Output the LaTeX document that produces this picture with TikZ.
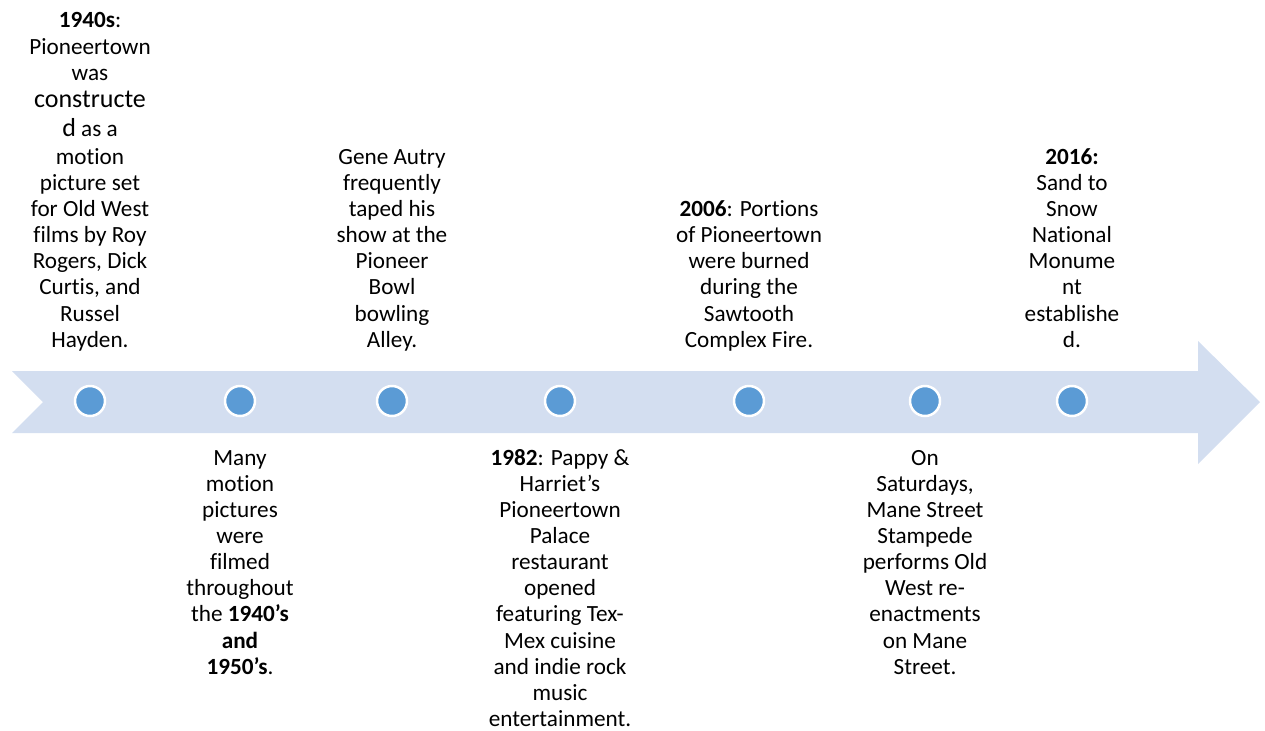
\documentclass[tikz,border=0pt]{standalone}
\usepackage{fontspec}
\setmainfont{Carlito}[Ligatures=NoCommon]
\usetikzlibrary{positioning}
\definecolor{bandblue}{HTML}{D3DEF0}
\definecolor{dotblue}{HTML}{5B9BD5}
\begin{document}
\begin{tikzpicture}[x=0.5pt, y=-0.5pt, line join=round, node distance=14.7pt]
	\tikzset{dot/.style={circle, fill=dotblue, draw=white, line width=1.25pt, minimum size=15pt, inner sep=0pt},
		note/.style={align=center, inner sep=0pt, font=\fontsize{11.6}{13.05}\selectfont}}
	\useasboundingbox (0,0) rectangle (1265,730);
	\fill[bandblue] (12,371)--(1198,371)--(1198,341)--(1260,402)--(1198,464)--(1198,433)--(12,433)--(43,402)--cycle;
	\foreach \n/\x in {1/90,2/240,3/392,4/560,5/749,6/925,7/1072}
		\node[dot] (c\n) at (\x,401) {};
	\node[note, above=of c1] (t1) {\textbf{1940s}:\\Pioneertown\\was\\[0.5pt]{\fontsize{13}{14}\selectfont constructe}\\[1.5pt]{\fontsize{13}{14}\selectfont d} as a\\[1pt]motion\\picture set\\for Old West\\films by Roy\\Rogers, Dick\\Curtis, and\\Russel\\Hayden.\strut};
	\node[note, below=of c2] (t2) {\strut Many\\motion\\pictures\\were\\filmed\\throughout\\the \textbf{1940’s}\\\textbf{and}\\\textbf{1950’s}.};
	\node[note, above=of c3] (t3) {Gene Autry\\frequently\\taped his\\show at the\\Pioneer\\Bowl\\bowling\\Alley.\strut};
	\node[note, below=of c4] (t4) {\strut\textbf{1982}: Pappy \&\\Harriet’s\\Pioneertown\\Palace\\restaurant\\opened\\featuring Tex-\\Mex cuisine\\and indie rock\\music\\entertainment.};
	\node[note, above=of c5] (t5) {\textbf{2006}: Portions\\of Pioneertown\\were burned\\during the\\Sawtooth\\Complex Fire.\strut};
	\node[note, below=of c6] (t6) {\strut On\\Saturdays,\\Mane Street\\Stampede\\performs Old\\West re-\\enactments\\on Mane\\Street.};
	\node[note, above=of c7] (t7) {\textbf{2016:}\\Sand to\\Snow\\National\\Monume\\nt\\establishe\\d.\strut};
\end{tikzpicture}
\end{document}
